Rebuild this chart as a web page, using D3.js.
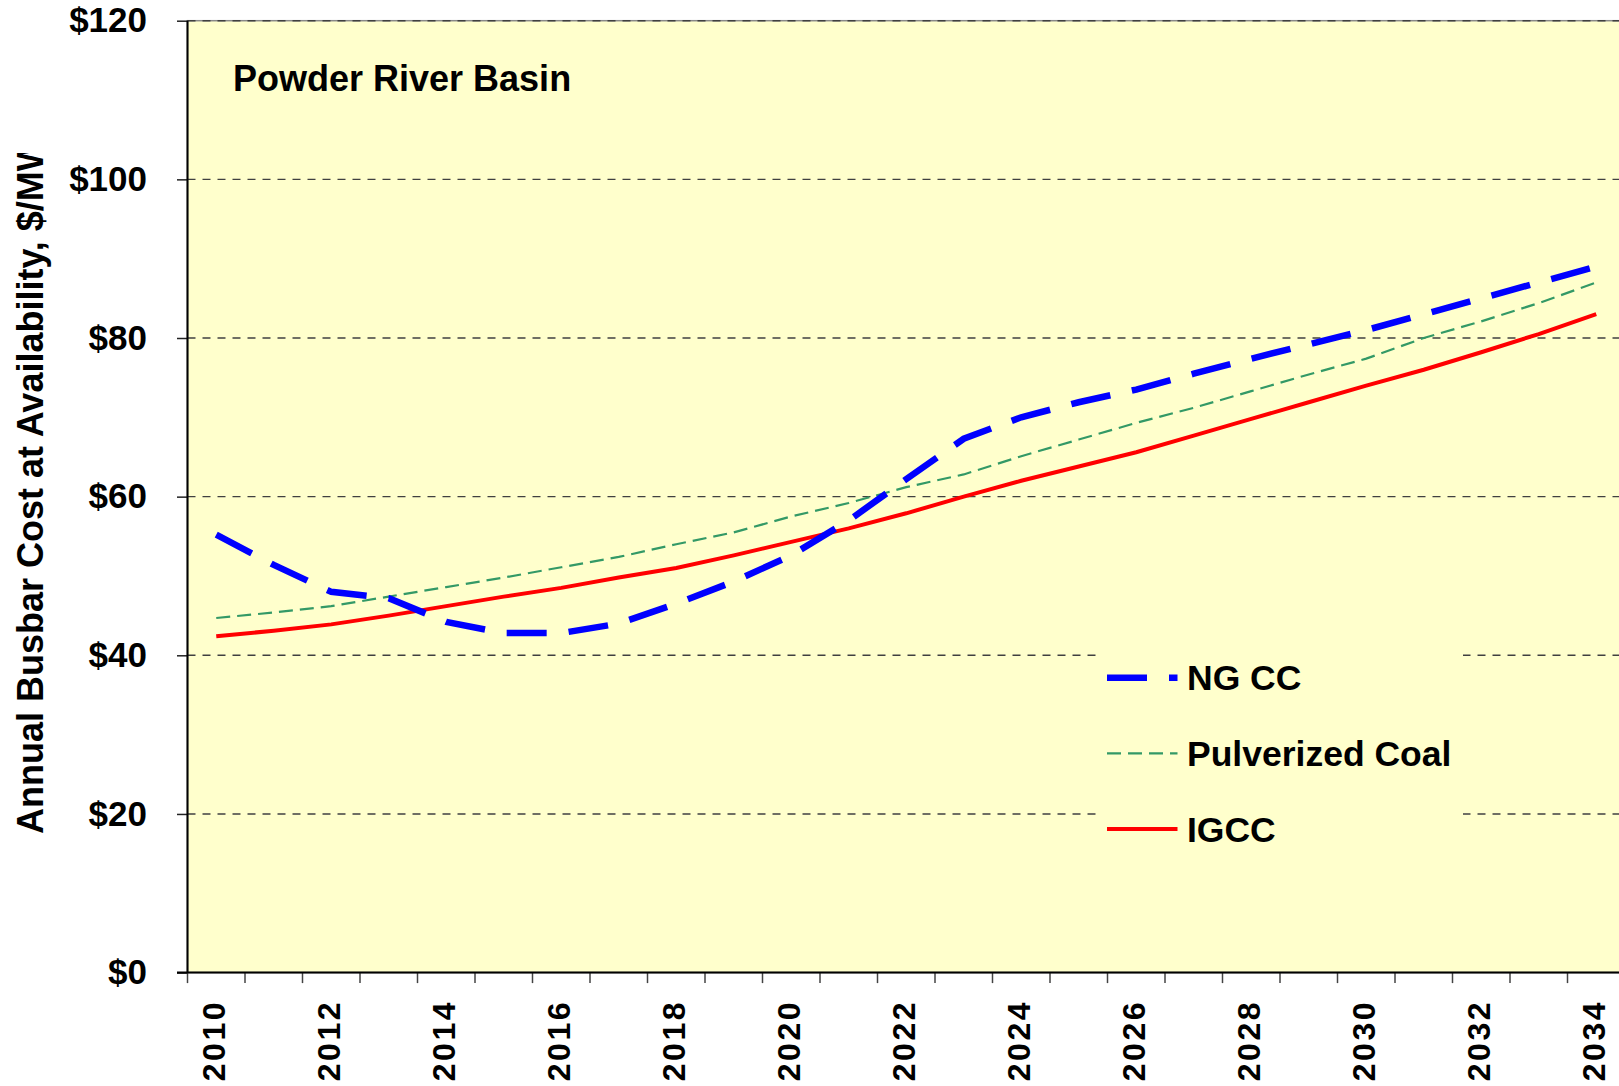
<!DOCTYPE html>
<html>
<head>
<meta charset="utf-8">
<script src="https://cdn.jsdelivr.net/npm/d3@7"></script>
<style>
  body { margin: 0; background: #fff; }
  text { font-family: "Liberation Sans", Arial, sans-serif; font-weight: bold; fill: #000; }
</style>
</head>
<body>
<svg id="chart"></svg>
<script>
// categories
const years = [2010, 2011, 2012, 2013, 2014, 2015, 2016, 2017, 2018, 2019, 2020, 2021, 2022,
               2023, 2024, 2025, 2026, 2027, 2028, 2029, 2030, 2031, 2032, 2033, 2034];
const xLabels = [2010, 2012, 2014, 2016, 2018, 2020, 2022, 2024, 2026, 2028, 2030, 2032, 2034];
const yTicks = [0, 20, 40, 60, 80, 100, 120];

// series ($/MWh)
const ngcc = [55.2, 51.4, 48.0, 47.2, 44.2, 42.8, 42.8, 44.0, 46.5, 49.3, 52.6, 57.0, 62.2,
              67.3, 70.0, 71.9, 73.5, 75.5, 77.4, 79.2, 81.0, 83.0, 85.0, 87.0, 89.0];
const pulverizedCoal = [44.7, 45.4, 46.2, 47.4, 48.6, 49.8, 51.1, 52.4, 54.0, 55.5, 57.5, 59.2, 61.2,
                        62.8, 65.1, 67.2, 69.3, 71.2, 73.3, 75.4, 77.4, 80.0, 82.1, 84.4, 87.0];
const igcc = [42.4, 43.1, 43.9, 45.0, 46.2, 47.4, 48.5, 49.8, 51.0, 52.6, 54.3, 56.0, 57.9,
              60.0, 62.0, 63.8, 65.6, 67.7, 69.8, 71.9, 74.0, 76.0, 78.2, 80.5, 83.0];

const width = 1619, height = 1086;
const plotLeft = 187.5, plotRight = 1625, plotTop = 20.7, plotBottom = 972.6;

const svg = d3.select("#chart")
    .attr("width", width)
    .attr("height", height);

const x = d3.scaleBand().domain(years).range([plotLeft, plotRight]);
const y = d3.scaleLinear().domain([0, 120]).range([plotBottom, plotTop]);
const cx = d => x(d) + x.bandwidth() / 2;

// plot area
svg.append("rect")
    .attr("x", plotLeft).attr("y", plotTop)
    .attr("width", plotRight - plotLeft).attr("height", plotBottom - plotTop)
    .attr("fill", "#ffffcc")
    .attr("stroke", "#888").attr("stroke-width", 1.5);

// gridlines
svg.append("g")
  .selectAll("line")
  .data(yTicks.filter(d => d > 0))
  .join("line")
    .attr("x1", plotLeft).attr("x2", plotRight)
    .attr("y1", d => y(d)).attr("y2", d => y(d))
    .attr("stroke", "#404040")
    .attr("stroke-width", 1.4)
    .attr("stroke-dasharray", "8,7");

// y axis
const yAxis = svg.append("g")
    .attr("transform", `translate(${plotLeft},0)`)
    .call(d3.axisLeft(y).tickValues(yTicks).tickSize(10.5).tickPadding(30).tickFormat(d => "$" + d));
yAxis.select(".domain").remove();
yAxis.selectAll(".tick line").attr("stroke", "#222").attr("stroke-width", 1.5);
yAxis.selectAll(".tick text")
    .attr("font-size", 35)
    .attr("font-family", "Liberation Sans, Arial, sans-serif")
    .attr("font-weight", "bold")
    .attr("fill", "#000");
svg.append("line")
    .attr("x1", plotLeft).attr("x2", plotLeft).attr("y1", plotTop).attr("y2", plotBottom)
    .attr("stroke", "#000").attr("stroke-width", 2);

// x axis (ticks on category boundaries)
const xg = svg.append("g");
xg.selectAll("line.tk")
  .data(years.map(d => x(d)).concat([plotRight]))
  .join("line")
    .attr("class", "tk")
    .attr("x1", d => d).attr("x2", d => d)
    .attr("y1", plotBottom).attr("y2", plotBottom + 10.5)
    .attr("stroke", "#444").attr("stroke-width", 1.5);
xg.append("line")
    .attr("x1", plotLeft - 10.5).attr("x2", plotRight).attr("y1", plotBottom).attr("y2", plotBottom)
    .attr("stroke", "#000").attr("stroke-width", 2);
xg.selectAll("text")
  .data(xLabels)
  .join("text")
    .attr("transform", d => `translate(${cx(d) - 2},1000) rotate(-90)`)
    .attr("text-anchor", "end")
    .attr("dy", "0.35em")
    .attr("font-size", 32)
    .attr("letter-spacing", 2.5)
    .text(d => d);

// y axis title (cut at the top, as in the original)
svg.append("clipPath").attr("id", "titleClip")
  .append("rect").attr("x", 0).attr("y", 153).attr("width", 80).attr("height", 900);
svg.append("g")
    .attr("clip-path", "url(#titleClip)")
  .append("text")
    .attr("transform", "translate(43,834) rotate(-90)")
    .attr("font-size", 36)
    .text("Annual Busbar Cost at Availability, $/MWh");

// chart label
svg.append("text")
    .attr("x", 233).attr("y", 91)
    .attr("font-size", 36)
    .text("Powder River Basin");

// series
const series = [
  {name: "NG CC", values: ngcc, color: "#0000ff", width: 6.5, dash: "40,22"},
  {name: "Pulverized Coal", values: pulverizedCoal, color: "#339966", width: 2.2, dash: "14,7"},
  {name: "IGCC", values: igcc, color: "#ff0000", width: 4, dash: null}
];

const line = d3.line()
    .x((d, i) => cx(years[i]))
    .y(d => y(d));

svg.append("g")
  .selectAll("path")
  .data(series.slice().reverse())
  .join("path")
    .attr("d", d => line(d.values))
    .attr("fill", "none")
    .attr("stroke", d => d.color)
    .attr("stroke-width", d => d.width)
    .attr("stroke-dasharray", d => d.dash);

// legend
const legend = svg.append("g");
legend.append("rect")
    .attr("x", 1097).attr("y", 640)
    .attr("width", 366).attr("height", 222)
    .attr("fill", "#ffffcc");
const item = legend.selectAll("g")
  .data(series)
  .join("g")
    .attr("transform", (d, i) => `translate(0,${677.7 + i * 75.7})`);
item.append("line")
    .attr("x1", 1107).attr("x2", 1177.5)
    .attr("stroke", d => d.color)
    .attr("stroke-width", d => d.width)
    .attr("stroke-dasharray", d => d.dash);
item.append("text")
    .attr("x", 1187)
    .attr("dy", "0.36em")
    .attr("font-size", 35.5)
    .text(d => d.name);
</script>
</body>
</html>
